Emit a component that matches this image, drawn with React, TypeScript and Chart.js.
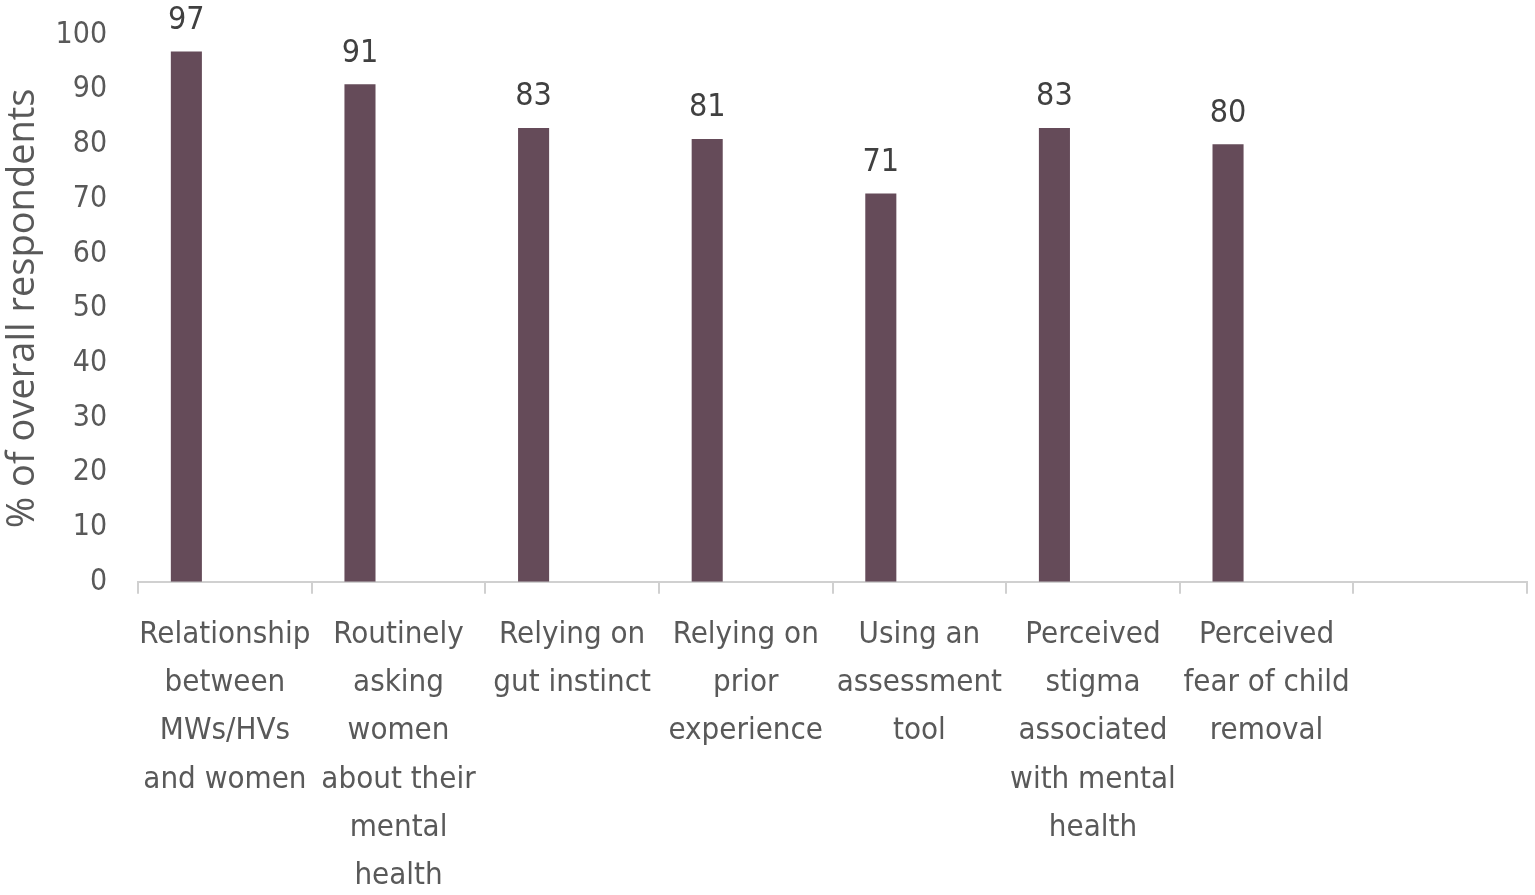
import React, { useEffect, useRef } from 'react';
import Chart from 'chart.js/auto';

const categories: (string | string[])[] = [
  ['Relationship', 'between', 'MWs/HVs', 'and women'],
  ['Routinely', 'asking', 'women', 'about their', 'mental', 'health'],
  ['Relying on', 'gut instinct'],
  ['Relying on', 'prior', 'experience'],
  ['Using an', 'assessment', 'tool'],
  ['Perceived', 'stigma', 'associated', 'with mental', 'health'],
  ['Perceived', 'fear of child', 'removal'],
  '',
];
const respondents: (number | null)[] = [97, 91, 83, 81, 71, 83, 80, null];
// the source chart had a second, empty series, which pushes each bar left of its category centre
const emptySeries: (number | null)[] = [null, null, null, null, null, null, null, null];

const FONT = '"Liberation Sans Narrow", "DejaVu Sans Condensed", sans-serif';

// draws the value above every bar
const valueLabels = {
  id: 'valueLabels',
  afterDatasetsDraw(chart: any) {
    const ctx = chart.ctx;
    const meta = chart.getDatasetMeta(0);
    ctx.save();
    ctx.font = `32px ${FONT}`;
    ctx.fillStyle = '#404040';
    ctx.textAlign = 'center';
    ctx.textBaseline = 'middle';
    meta.data.forEach((bar: any, i: number) => {
      const v = respondents[i];
      if (v == null) return;
      ctx.fillText(String(v), bar.x, bar.y - 31);
    });
    ctx.restore();
  },
};

const App: React.FC = () => {
  const chartRef = useRef<HTMLCanvasElement | null>(null);
  const chartInstanceRef = useRef<Chart | null>(null);

  useEffect(() => {
    const ctx = chartRef.current;
    if (!ctx) return;
    document.body.style.margin = '0';

    if (chartInstanceRef.current) {
      chartInstanceRef.current.destroy();
    }

    chartInstanceRef.current = new Chart(ctx, {
      type: 'bar',
      data: {
        labels: categories,
        datasets: [
          {
            label: '% of overall respondents',
            data: respondents,
            backgroundColor: '#654B59',
            borderWidth: 0,
            categoryPercentage: 0.888,
            barPercentage: 0.403,
          },
          {
            label: '',
            data: emptySeries,
            backgroundColor: 'transparent',
            borderWidth: 0,
            categoryPercentage: 0.888,
            barPercentage: 0.403,
          },
        ]
      },
      plugins: [valueLabels],
      options: {
        animation: false,
        responsive: true,
        maintainAspectRatio: false,
        layout: {
          padding: { top: 2, right: 8, bottom: -22, left: -3 }
        },
        plugins: {
          legend: { display: false },
          tooltip: { enabled: false },
        },
        scales: {
          x: {
            grid: {
              display: true,
              drawOnChartArea: false,
              drawTicks: true,
              tickLength: 12,
              color: '#D0D0D0',
              lineWidth: 2,
            },
            border: { display: true, color: '#D0D0D0', width: 2 },
            ticks: {
              autoSkip: false,
              maxRotation: 0,
              minRotation: 0,
              padding: 17,
              color: '#595959',
              font: { family: FONT, size: 31, lineHeight: 1.555 },
            },
          },
          y: {
            min: 0,
            max: 100,
            grid: { display: false },
            border: { display: false },
            ticks: {
              stepSize: 10,
              padding: 23,
              color: '#595959',
              font: { family: FONT, size: 30, lineHeight: 0.8 },
            },
            title: {
              display: true,
              text: '% of overall respondents',
              color: '#595959',
              font: { family: '"Open Sans", sans-serif', size: 38 },
              padding: { top: 3, bottom: -13 },
            },
          },
        },
      },
    });

    return () => {
      if (chartInstanceRef.current) {
        chartInstanceRef.current.destroy();
      }
    };
  }, []);

  return (
    <div style={{ position: 'fixed', left: 0, top: 0, width: '1535px', height: '895px' }}>
      <canvas ref={chartRef}></canvas>
    </div>
  );
};

export default App;
